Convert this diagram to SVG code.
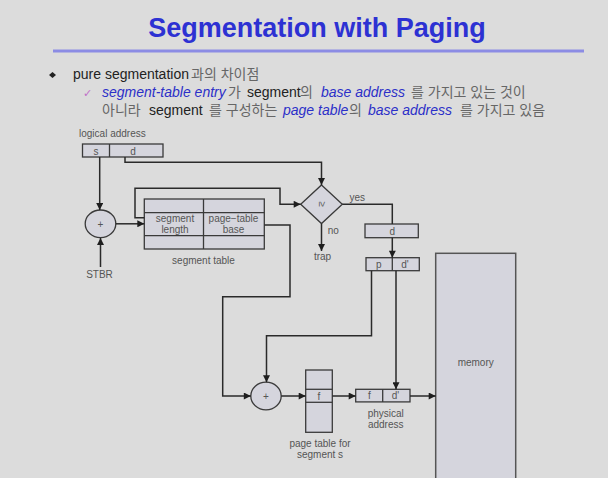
<svg xmlns="http://www.w3.org/2000/svg" width="608" height="478" viewBox="0 0 608 478">
<defs>
<style>
.lbl{font-family:"Liberation Sans",Arial,sans-serif;font-size:10px;fill:#555}
.in{font-family:"Liberation Sans",Arial,sans-serif;font-size:10px;fill:#555;text-anchor:middle}
.box{fill:#d5d5dd;stroke:#3a3a3a;stroke-width:1.3}
.ln{fill:none;stroke:#2a2a2a;stroke-width:1.5}
.arr{fill:none;stroke:#2a2a2a;stroke-width:1.5;marker-end:url(#ah)}
.txt{font-family:"Liberation Sans","Noto Sans CJK KR",sans-serif;font-size:14px;fill:#222}
.ko{fill:#666}
.bl{fill:#2b2fc8;font-style:italic}
</style>
<marker id="ah" viewBox="0 0 10 10" refX="10" refY="5" markerWidth="8" markerHeight="7" markerUnits="userSpaceOnUse" orient="auto">
<path d="M0,0 L10,5 L0,10 z" fill="#1e1e1e"/>
</marker>
</defs>
<rect width="608" height="478" fill="#dcdcdc"/>

<g id="title">
<text x="317" y="37" text-anchor="middle" font-family="Liberation Sans,Arial,sans-serif" font-size="27" font-weight="bold" fill="#2d31d3">Segmentation with Paging</text>
<line x1="53" y1="51" x2="584" y2="51" stroke="#8c8ce4" stroke-width="3"/>
</g>

<g id="bullets">
<path d="M49,75 L52.5,72 L56,75 L52.5,78 z" fill="#222"/>
<text class="txt" y="79"><tspan x="73">pure segmentation</tspan><tspan class="ko" x="191">과의 차이점</tspan></text>
<text x="83" y="97" font-family="DejaVu Sans,sans-serif" font-size="11" fill="#c070c8">✓</text>
<text class="txt" y="97"><tspan class="bl" x="102">segment-table entry</tspan><tspan class="ko" x="228">가</tspan><tspan x="247">segment</tspan><tspan class="ko" x="300">의</tspan><tspan class="bl" x="321">base address</tspan><tspan class="ko" x="411">를 가지고 있는 것이</tspan></text>
<text class="txt" y="115"><tspan class="ko" x="102">아니라</tspan><tspan x="149">segment</tspan><tspan class="ko" x="209">를 구성하는</tspan><tspan class="bl" x="283">page table</tspan><tspan class="ko" x="349">의</tspan><tspan class="bl" x="368">base address</tspan><tspan class="ko" x="460">를 가지고 있음</tspan></text>
</g>

<g id="logical-address">
<text class="lbl" x="79" y="137">logical address</text>
<rect class="box" x="82.5" y="144" width="80.5" height="13"/>
<line x1="109.5" y1="144" x2="109.5" y2="157" stroke="#3a3a3a" stroke-width="1.3"/>
<text class="in" x="96" y="155">s</text>
<text class="in" x="133" y="155">d</text>
</g>

<g id="adder1">
<ellipse class="box" cx="100.5" cy="223.8" rx="15.3" ry="13.8"/>
<text class="in" x="100.5" y="227.5">+</text>
</g>

<g id="stbr">
<text class="in" x="99.5" y="278">STBR</text>
</g>

<g id="segment-table">
<rect class="box" x="144.3" y="199" width="120" height="50"/>
<line x1="144.3" y1="212.7" x2="264.3" y2="212.7" stroke="#3a3a3a" stroke-width="1.3"/>
<line x1="144.3" y1="235.7" x2="264.3" y2="235.7" stroke="#3a3a3a" stroke-width="1.3"/>
<line x1="203.5" y1="199" x2="203.5" y2="249" stroke="#3a3a3a" stroke-width="1.3"/>
<text class="in" x="175" y="221.5">segment</text>
<text class="in" x="175" y="232.5">length</text>
<text class="in" x="233.5" y="221.5">page−table</text>
<text class="in" x="233.5" y="232.5">base</text>
<text class="in" x="203.5" y="263.5">segment table</text>
</g>

<g id="compare">
<path class="box" d="M321.5,185 L342.3,204.3 L321.5,223.5 L300.7,204.3 z"/>
<text class="in" x="0" y="0" transform="translate(318.5,204.3) rotate(90)">≥</text>
<text class="lbl" x="349.5" y="201">yes</text>
<text class="lbl" x="327.7" y="233.5">no</text>
<text class="in" x="322.5" y="260">trap</text>
</g>

<g id="d-box">
<rect class="box" x="365" y="224" width="53.3" height="13.7"/>
<text class="in" x="392.3" y="234.8">d</text>
</g>

<g id="pd-box">
<rect class="box" x="366" y="257.7" width="53.3" height="13"/>
<line x1="392.3" y1="257.7" x2="392.3" y2="270.7" stroke="#3a3a3a" stroke-width="1.3"/>
<text class="in" x="378.7" y="267.5">p</text>
<text class="in" x="405" y="267.5">d'</text>
</g>

<g id="adder2">
<ellipse class="box" cx="266" cy="396" rx="15.2" ry="13.8"/>
<text class="in" x="266" y="399.7">+</text>
</g>

<g id="page-table">
<rect class="box" x="305.7" y="370" width="26.6" height="62.3"/>
<line x1="305.7" y1="389.3" x2="332.3" y2="389.3" stroke="#3a3a3a" stroke-width="1.3"/>
<line x1="305.7" y1="402.3" x2="332.3" y2="402.3" stroke="#3a3a3a" stroke-width="1.3"/>
<text class="in" x="319" y="399.5">f</text>
<text class="in" x="320" y="446.7">page table for</text>
<text class="in" x="320" y="457.5">segment s</text>
</g>

<g id="physical-address">
<rect class="box" x="355.7" y="389.3" width="54.3" height="12.6"/>
<line x1="382.7" y1="389.3" x2="382.7" y2="401.9" stroke="#3a3a3a" stroke-width="1.3"/>
<text class="in" x="369.3" y="399.3">f</text>
<text class="in" x="395.5" y="399.3">d'</text>
<text class="in" x="385.7" y="416.7">physical</text>
<text class="in" x="385.7" y="427.5">address</text>
</g>

<g id="memory">
<rect x="435.7" y="253.3" width="80" height="226" fill="#d5d5dd" stroke="#555" stroke-width="1.5"/>
<text class="in" x="475.7" y="366">memory</text>
</g>

<g id="connectors">
<path class="arr" d="M125,157 V162.3 H321.5 V185"/>
<path class="arr" d="M99.7,157 V210"/>
<path class="arr" d="M100.5,267 V238"/>
<path class="arr" d="M115.8,223.8 H144.3"/>
<path class="arr" d="M144.3,217.7 H135 V188.3 H280 V204.3 H300.7"/>
<path class="ln" d="M342.3,204.3 H392.3 V224"/>
<path class="arr" d="M321.5,223.5 V251"/>
<path class="arr" d="M392.3,237.7 V257.7"/>
<path class="arr" d="M371.5,270.7 V335.7 H266.5 V382.2"/>
<path class="arr" d="M396,270.7 V389.3"/>
<path class="arr" d="M264.3,225 H290 V296.7 H222.7 V396 H250.8"/>
<path class="arr" d="M281.2,396 H305.7"/>
<path class="arr" d="M332.3,396 H355.7"/>
<path class="arr" d="M410,396 H435.7"/>
</g>
</svg>
